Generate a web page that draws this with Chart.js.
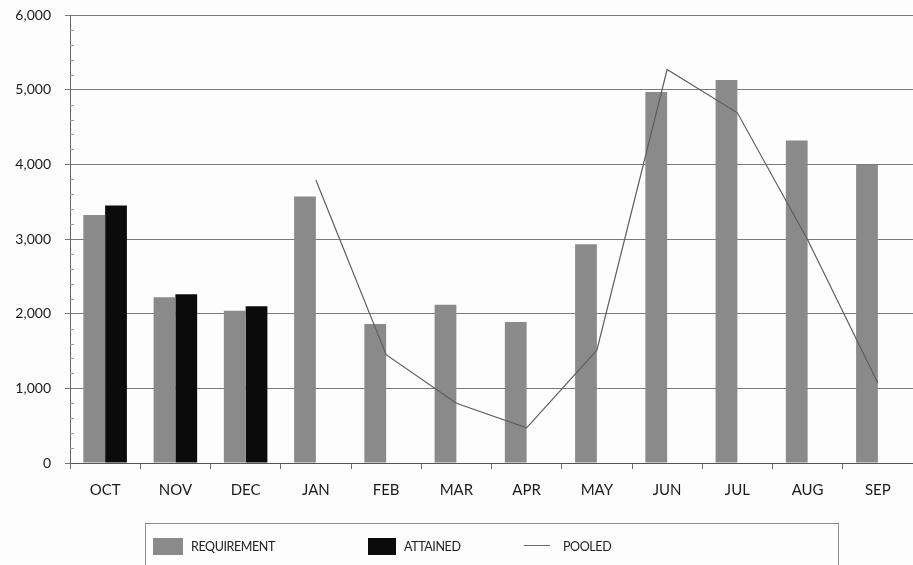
<!DOCTYPE html>
<html>
<head>
<meta charset="utf-8">
<script src="https://cdn.jsdelivr.net/npm/chart.js@4/dist/chart.umd.min.js"></script>
<style>
  html, body { margin: 0; padding: 0; background: #fdfdfd; }
  #wrap { position: relative; width: 913px; height: 565px; overflow: hidden; background: #fdfdfd; }
  #chart { position: absolute; left: 0; top: 0; }
  #legend {
    position: absolute; left: 145px; top: 523px; width: 694px; height: 60px;
    border: 1px solid #8a8a8a; box-sizing: border-box;
    font-family: Lato, "DejaVu Sans", sans-serif; font-size: 12.5px; color: #222;
  }
  #legend .sw { position: absolute; }
  #legend .tx { position: absolute; top: 15px; line-height: 16px; letter-spacing: -0.4px; }
</style>
</head>
<body>
<div id="wrap">
  <canvas id="chart" width="913" height="565"></canvas>
  <div id="legend">
    <div class="sw" style="left:7px;top:14px;width:30px;height:17px;background:#8a8a8a"></div>
    <div class="tx" style="left:45px">REQUIREMENT</div>
    <div class="sw" style="left:222px;top:14px;width:28px;height:17px;background:#0b0b0b"></div>
    <div class="tx" style="left:258px">ATTAINED</div>
    <div class="sw" style="left:378px;top:21px;width:26px;height:1px;background:#6a6a6a"></div>
    <div class="tx" style="left:417px">POOLED</div>
  </div>
</div>
<script>
// Monthly figures, fiscal year October to September
const months = ['OCT', 'NOV', 'DEC', 'JAN', 'FEB', 'MAR', 'APR', 'MAY', 'JUN', 'JUL', 'AUG', 'SEP'];
const requirement = [3320, 2220, 2040, 3570, 1860, 2120, 1890, 2930, 4970, 5130, 4320, 3990];
const attained = [3450, 2260, 2100, null, null, null, null, null, null, null, null, null];
const pooled = [null, null, null, 3790, 1450, 800, 470, 1510, 5270, 4690, 2990, 1070];
const yTicks = [0, 1000, 2000, 3000, 4000, 5000, 6000];

const fontFamily = 'Lato, "DejaVu Sans", sans-serif';

// small unlabeled marks every 200 along the value axis
const minorTicks = {
  id: 'minorTicks',
  afterDraw(chart) {
    const y = chart.scales.y;
    const ctx = chart.ctx;
    const x0 = chart.chartArea.left;
    ctx.save();
    ctx.strokeStyle = '#9a9a9a';
    ctx.lineWidth = 1;
    for (let v = 200; v < 6000; v += 200) {
      if (v % 1000 === 0) continue;
      const py = Math.round(y.getPixelForValue(v)) + 0.5;
      ctx.beginPath();
      ctx.moveTo(x0, py);
      ctx.lineTo(x0 + 4, py);
      ctx.stroke();
    }
    ctx.restore();
  }
};

new Chart(document.getElementById('chart'), {
  type: 'bar',
  data: {
    labels: months,
    datasets: [
      {
        type: 'line',
        label: 'POOLED',
        data: pooled,
        borderColor: '#5e5e5e',
        borderWidth: 1.2,
        pointRadius: 0,
        tension: 0,
        spanGaps: false,
        order: 0
      },
      {
        label: 'REQUIREMENT',
        data: requirement,
        backgroundColor: '#8a8a8a',
        order: 1
      },
      {
        label: 'ATTAINED',
        data: attained,
        backgroundColor: '#0b0b0b',
        order: 1
      }
    ]
  },
  options: {
    responsive: false,
    devicePixelRatio: 1,
    animation: false,
    layout: { padding: { top: 15, right: 0, bottom: 0, left: 0 } },
    datasets: {
      bar: { categoryPercentage: 0.62, barPercentage: 1.0 }
    },
    plugins: {
      legend: { display: false },
      tooltip: { enabled: false }
    },
    scales: {
      x: {
        offset: true,
        grid: {
          display: true,
          drawOnChartArea: false,
          drawTicks: true,
          tickLength: 6,
          color: '#6a6a6a'
        },
        border: { display: true, color: '#555' },
        ticks: {
          padding: 12,
          color: '#1a1a1a',
          font: { family: fontFamily, size: 15 }
        },
        afterFit(scale) { scale.height = 102; }
      },
      y: {
        min: 0,
        max: 6000,
        afterBuildTicks(scale) {
          scale.ticks = yTicks.map(v => ({ value: v }));
        },
        grid: {
          color: '#7a7a7a',
          lineWidth: 1,
          tickLength: 5
        },
        border: { display: true, color: '#666' },
        ticks: {
          padding: 14,
          color: '#1a1a1a',
          font: { family: fontFamily, size: 14 },
          callback: (v) => v.toLocaleString('en-US')
        },
        afterFit(scale) {
          scale.width = 70;
          scale.paddingTop = 0;
          scale.paddingBottom = 0;
        }
      }
    }
  },
  plugins: [minorTicks]
});
</script>
</body>
</html>
